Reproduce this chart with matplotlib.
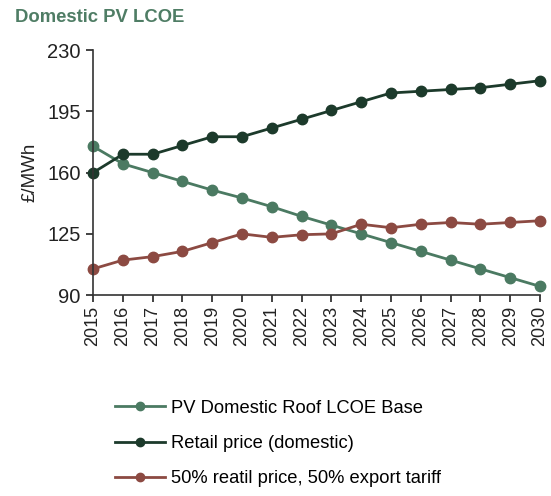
import matplotlib
matplotlib.use('AGG')
import matplotlib.pyplot as plt
import numpy as np

plt.rcParams['font.family'] = ['Liberation Sans', 'DejaVu Sans']

# Data for plotting
years = np.arange(2015, 2031)
pv_lcoe = [175, 165, 160, 155, 150, 145.5, 140.5, 135, 130, 125, 120, 115, 110, 105, 100, 95]
retail = [160, 170.5, 170.5, 175.5, 180.5, 180.5, 185.5, 190.5, 195.5, 200.5, 205.5, 206.5, 207.5, 208.5, 210.5, 212.5]
blended = [105, 110, 112, 115, 120, 125, 123, 124.5, 125, 130.5, 128.5, 130.5, 131.5, 130.5, 131.5, 132.5]

series_names = ["PV Domestic Roof LCOE Base", "Retail price (domestic)",
                "50% reatil price, 50% export tariff"]
series_colors = ["#4b7a62", "#1c3a2b", "#8c4a42"]
y_ticks = [90, 125, 160, 195, 230]

fig = plt.figure(figsize=(5.51, 4.96), dpi=100)
ax = fig.add_axes([0.169, 0.405, 0.811, 0.494])

for vals, name, col in zip([pv_lcoe, retail, blended], series_names, series_colors):
    line, = ax.plot(years, vals, color=col, lw=2.0, marker='o', ms=7.5, label=name)
    line.set_clip_on(False)

ax.set_ylim(90, 230)
ax.set_xlim(2015, 2030)
ax.set_yticks(y_ticks)
ax.set_xticks(years)
ax.set_xticklabels([str(y) for y in years], rotation=90)
ax.tick_params(axis='both', colors='#222222', length=5, width=1.2)
ax.tick_params(axis='y', labelsize=14.5, pad=4)
ax.tick_params(axis='x', labelsize=13, pad=3)
for s in ['top', 'right']:
    ax.spines[s].set_visible(False)
for s in ['left', 'bottom']:
    ax.spines[s].set_color('#333333')
    ax.spines[s].set_linewidth(1.2)
ax.set_ylabel("£/MWh", fontsize=13.5, color='#222222', labelpad=6)

fig.text(0.027, 0.965, "Domestic PV LCOE", fontsize=13.3, fontweight='bold',
         color='#4f7d65', va='center', ha='left')

ax.legend(loc='upper left', bbox_to_anchor=(0.013, -0.36), frameon=False,
          fontsize=13.2, handlelength=2.7, handletextpad=0.35, labelspacing=1.0,
          markerscale=0.8)

fig.savefig("out.png", dpi=100)
